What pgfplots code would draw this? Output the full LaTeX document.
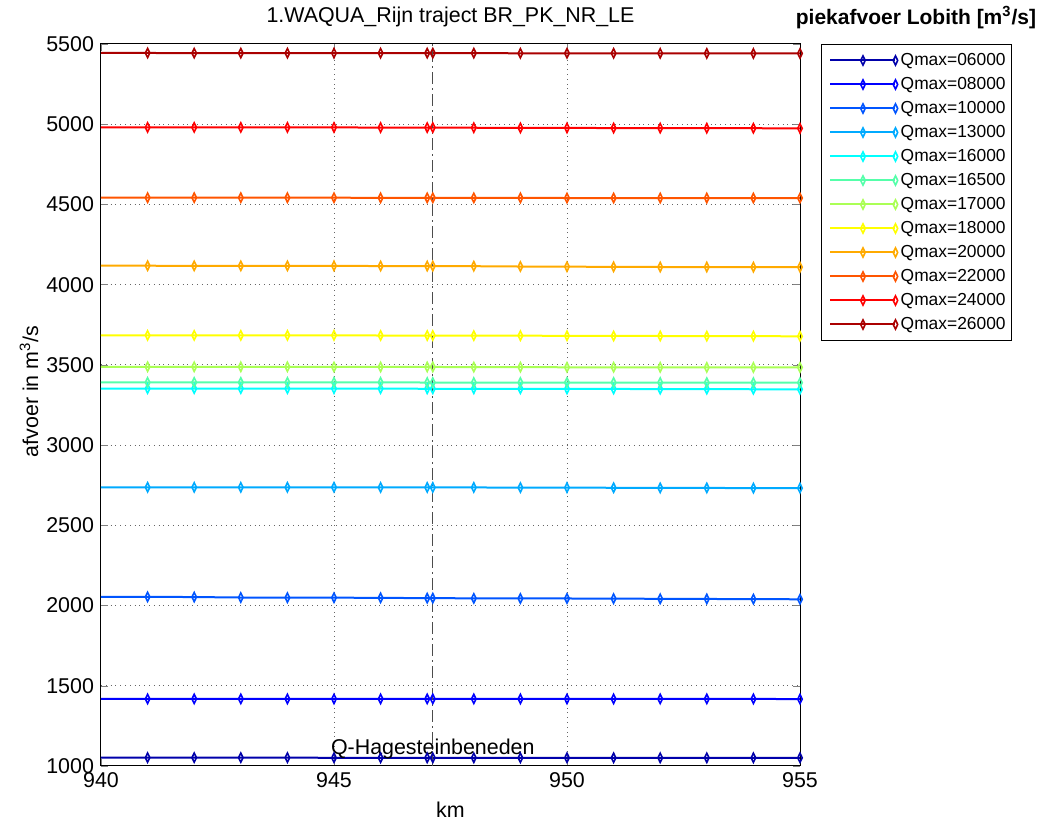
\documentclass[border=0pt]{standalone}
\usepackage{pgfplots}
\pgfplotsset{compat=1.18}
\usepackage{pgfplotstable}
\usepackage{fontspec}
\setmainfont{Liberation Sans}
\definecolor{c1}{rgb}{0,0,0.667}
\definecolor{c2}{rgb}{0,0,1}
\definecolor{c3}{rgb}{0,0.333,1}
\definecolor{c4}{rgb}{0,0.667,1}
\definecolor{c5}{rgb}{0,1,1}
\definecolor{c6}{rgb}{0.333,1,0.667}
\definecolor{c7}{rgb}{0.667,1,0.333}
\definecolor{c8}{rgb}{1,1,0}
\definecolor{c9}{rgb}{1,0.667,0}
\definecolor{c10}{rgb}{1,0.333,0}
\definecolor{c11}{rgb}{1,0,0}
\definecolor{c12}{rgb}{0.667,0,0}
\pgfplotstableread{
x      qa   qb   qc   qd   qe   qf   qg   qh   qi   qj   qk   ql
940    1052 1418 2054 2737 3352 3391 3488 3684 4118 4542 4980 5445
941    1052 1418 2054 2737 3352 3391 3488 3684 4118 4542 4980 5444
942    1052 1418 2053 2737 3352 3391 3488 3684 4117 4542 4980 5443
943    1052 1418 2050 2737 3352 3391 3488 3684 4117 4542 4980 5443
944    1052 1418 2049 2737 3352 3391 3488 3684 4117 4542 4980 5443
945    1051 1418 2049 2737 3352 3391 3487 3684 4117 4542 4980 5443
946    1051 1418 2048 2736 3352 3391 3487 3683 4116 4541 4979 5443
947    1051 1418 2046 2736 3351 3390 3487 3683 4116 4541 4979 5443
947.12 1051 1418 2046 2736 3351 3390 3487 3683 4116 4541 4979 5443
948    1051 1418 2045 2736 3351 3390 3486 3682 4115 4541 4978 5443
949    1051 1418 2044 2735 3351 3390 3486 3682 4113 4541 4977 5442
950    1051 1418 2044 2735 3350 3390 3485 3681 4112 4540 4977 5442
951    1051 1418 2043 2734 3350 3390 3485 3680 4111 4540 4976 5442
952    1051 1418 2042 2733 3349 3390 3485 3680 4110 4540 4976 5442
953    1051 1418 2041 2733 3349 3389 3484 3679 4110 4540 4975 5441
954    1051 1418 2040 2732 3348 3389 3484 3679 4109 4540 4975 5441
955    1051 1417 2039 2732 3348 3389 3484 3678 4109 4540 4974 5441
}\flowdata
\begin{document}
\begin{tikzpicture}
\path[use as bounding box] (-50.5pt,-28pt) rectangle (469pt,383pt);
\begin{axis}[
  at={(0,0)}, anchor=south west,
  scale only axis, width=349.5pt, height=361pt,
  xmin=940, xmax=955, ymin=1000, ymax=5500,
  xtick={940,945,950,955},
  ytick={1000,1500,...,5500},
  scaled ticks=false,
  /pgf/number format/1000 sep={},
  /pgf/number format/assume math mode=true,
  tick label style={font=\fontsize{10.7}{12}\selectfont},
  tick align=inside, major tick length=3.6pt,
  xtick pos=both, ytick pos=both,
  grid=major,
  major grid style={dotted, black!60, line width=0.5pt},
  axis line style={black, line width=0.5pt},
  clip=false,
  title={1.WAQUA\_Rijn traject BR\_PK\_NR\_LE},
  every axis title/.style={at={(axis description cs:0.5,1.0375)}, anchor=center, font=\fontsize{10.7}{12}\selectfont},
  xlabel={km},
  every axis x label/.style={at={(axis description cs:0.5,-0.061)}, anchor=center, font=\fontsize{10.7}{12}\selectfont},
  ylabel={afvoer in m\textsuperscript{3}/s},
  every axis y label/.style={at={(axis description cs:-0.103,0.519)}, rotate=90, anchor=center, font=\fontsize{10.7}{12}\selectfont},
  legend style={at={(1.030,1)}, anchor=north west, draw=black, line width=0.5pt,
    font=\fontsize{8.7}{10}\selectfont, inner xsep=1.5pt, inner ysep=2pt,
    nodes={text height=6.3pt, text depth=1.7pt, inner ysep=2pt, inner xsep=1.5pt},
    cells={anchor=west}},
  legend image code/.code={\path (0pt,0pt); \draw[mark repeat=2,mark phase=2] plot coordinates {(2.5pt,0pt) (18.75pt,0pt) (35pt,0pt)};},
  every axis plot/.append style={line width=1pt, mark=diamond, mark size=2.3pt, mark indices={2,...,17}, mark options={solid, xscale=0.65, line width=0.8pt}},
]
\addplot[c1] table[x=x,y=qa]{\flowdata};
\addlegendentry{Qmax=06000}
\addplot[c2] table[x=x,y=qb]{\flowdata};
\addlegendentry{Qmax=08000}
\addplot[c3] table[x=x,y=qc]{\flowdata};
\addlegendentry{Qmax=10000}
\addplot[c4] table[x=x,y=qd]{\flowdata};
\addlegendentry{Qmax=13000}
\addplot[c5] table[x=x,y=qe]{\flowdata};
\addlegendentry{Qmax=16000}
\addplot[c6] table[x=x,y=qf]{\flowdata};
\addlegendentry{Qmax=16500}
\addplot[c7] table[x=x,y=qg]{\flowdata};
\addlegendentry{Qmax=17000}
\addplot[c8] table[x=x,y=qh]{\flowdata};
\addlegendentry{Qmax=18000}
\addplot[c9] table[x=x,y=qi]{\flowdata};
\addlegendentry{Qmax=20000}
\addplot[c10] table[x=x,y=qj]{\flowdata};
\addlegendentry{Qmax=22000}
\addplot[c11] table[x=x,y=qk]{\flowdata};
\addlegendentry{Qmax=24000}
\addplot[c12] table[x=x,y=ql]{\flowdata};
\addlegendentry{Qmax=26000}
\draw[black!70, line width=0.6pt, dash pattern=on 6pt off 2pt on 1pt off 2pt] (axis cs:947.12,1000) -- (axis cs:947.12,5500);
\node[font=\fontsize{10.7}{12}\selectfont, anchor=base] at (axis cs:947.12,1070) {Q-Hagesteinbeneden};
\end{axis}
\node[font=\bfseries\fontsize{10.5}{12}\selectfont, anchor=center] at (407.5pt,374pt) {piekafvoer Lobith [m\textsuperscript{3}/s]};
\end{tikzpicture}
\end{document}
